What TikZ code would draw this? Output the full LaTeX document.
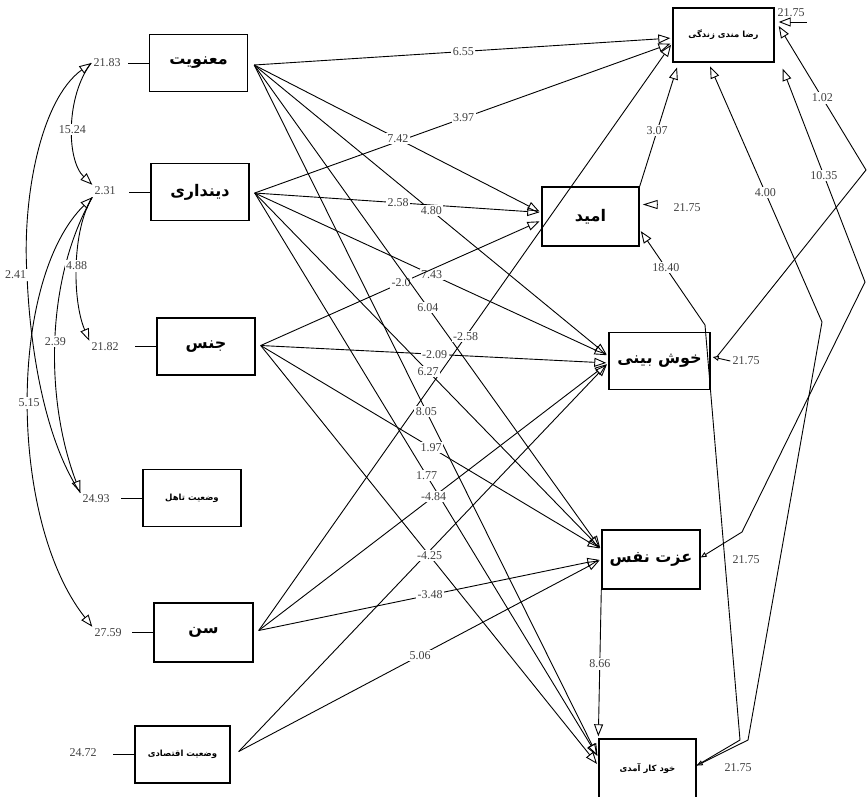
\documentclass[tikz,border=0pt]{standalone}
\usepackage{fontspec}
\setmainfont{Liberation Serif}
\newfontfamily\fa[Script=Arabic]{DejaVu Sans}
\TeXXeTstate=1
\usetikzlibrary{arrows.meta,positioning}

\newcommand{\fan}[1]{{\fa\bfseries\beginR #1\endR}}

\begin{document}
\begin{tikzpicture}[x=1pt,y=-1pt,
    >={Triangle[open,length=12pt,width=9pt]},
    var/.style={draw, line width=1.4pt, minimum width=98pt, minimum height=57pt, inner sep=2pt, font=\fontsize{16}{19}\selectfont},
    svar/.style={var, font=\fontsize{8.5}{10}\selectfont},
    eff/.style={->, line width=0.9pt, shorten >=2pt},
    cov/.style={line width=0.9pt},
    lbl/.style={fill=white, inner sep=1.5pt, font=\fontsize{12}{14}\selectfont, text=black!75},
    varlbl/.style={inner sep=2pt, font=\fontsize{12}{14}\selectfont, text=black!75}]
    \useasboundingbox (0,0) rectangle (867,796);

    % Exogenous variables
    \node[var] (M) at (198.5,63) {\fan{معنویت}};
    \node[var] (D) at (200,192) {\fan{دینداری}};
    \node[var] (J) at (206,346.5) {\fan{جنس}};
    \node[svar] (T) at (192,498) {\fan{وضعیت تاهل}};
    \node[var, minimum width=99pt, minimum height=59pt] (S) at (203.5,632.5) {\fan{سن}};
    \node[svar, minimum width=95pt] (E) at (182.5,754.5) {\fan{وضعیت اقتصادی}};

    % Endogenous variables
    \node[svar, minimum width=101pt, minimum height=54pt] (R) at (723.5,35) {\fan{رضا مندی زندگی}};
    \node[var, minimum width=97pt, minimum height=59pt] (A) at (590.5,216.5) {\fan{امید}};
    \node[var, minimum width=101pt] (K) at (659.5,361) {\fan{خوش بینی}};
    \node[var, minimum height=59pt] (Z) at (651,559.5) {\fan{عزت نفس}};
    \node[svar, minimum width=97pt, minimum height=59pt] (X) at (647.5,768.5) {\fan{خود کار آمدی}};

    % Variances
    \node[varlbl] (vM) at (107,63) {21.83};
    \node[varlbl] (vD) at (105,191) {2.31};
    \node[varlbl] (vJ) at (105,347) {21.82};
    \node[varlbl] (vT) at (96,499) {24.93};
    \node[varlbl] (vS) at (108,633) {27.59};
    \node[varlbl] (vE) at (83,753) {24.72};
    \foreach \v in {M,D,J,T,S,E}
        \draw[line width=0.9pt] (\v.west) -- ++(-21,0);

    % Covariances
    \draw[cov,<-] (vM.west) .. controls (40,100) and (22,200) .. (27,275) node[lbl, anchor=east, xshift=1pt] (c1) {2.41}
        .. controls (30,350) and (45,440) .. (vT.north west);
    \draw[cov,->] (vM.west) .. controls (66,95) and (66,160) .. node[lbl,pos=0.52] (c2) {15.24} (vD.north west);
    \draw[cov,->] (vD.south west) .. controls (45,280) and (45,400) .. node[lbl,pos=0.5] (c3) {2.39} (vT.north west);
    \draw[cov,<->] (vD.south west) .. controls (8,280) and (8,520) .. node[lbl,pos=0.5] (c4) {5.15} (vS.north west);
    \draw[cov,->] (vD.south west) .. controls (72,230) and (72,300) .. node[lbl,pos=0.5] (c5) {4.88} (vJ.north west);

    % Start points of the paths
    \coordinate (m0) at ([xshift=6pt,yshift=-2pt]M.east);
    \coordinate (d0) at ([xshift=5pt,yshift=-1pt]D.east);
    \coordinate (j0) at ([xshift=5pt,yshift=1pt]J.east);
    \coordinate (s0) at ([xshift=5pt,yshift=2pt]S.east);
    \coordinate (e0) at ([xshift=8pt,yshift=3pt]E.east);

    % Paths from the exogenous variables
    \draw[eff] (m0) -- node[lbl] {6.55} ([yshift=-3pt]R.west);
    \draw[eff] (d0) -- node[lbl] {3.97} ([yshift=-8pt]R.west);
    \draw[eff] (m0) -- node[lbl] {7.42} ([yshift=4pt]A.west);
    \draw[eff] (d0) -- node[lbl] {2.58} ([yshift=4pt]A.west);
    \draw[eff] (m0) -- node[lbl] {4.80} ([yshift=5pt]K.west);
    \draw[eff] (d0) -- node[lbl] {7.43} ([yshift=5pt]K.west);
    \draw[eff] (j0) -- node[lbl] {-2.0} ([yshift=-4pt]A.west);
    \draw[eff] (m0) -- node[lbl] {6.04} ([yshift=10pt]Z.west);
    \draw[eff] (s0) -- node[lbl] {-2.58} ([yshift=-8pt]R.west);
    \draw[eff] (j0) -- node[lbl] {-2.09} ([yshift=-2pt]K.west);
    \draw[eff] (d0) -- node[lbl] {6.27} ([yshift=10pt]Z.west);
    \draw[eff] (m0) -- node[lbl] {8.05} ([yshift=11pt]X.west);
    \draw[eff] (j0) -- node[lbl] {1.97} ([yshift=10pt]Z.west);
    \draw[eff] (d0) -- node[lbl] {1.77} ([yshift=11pt]X.west);
    \draw[eff] (s0) -- node[lbl] {-4.84} ([yshift=-2pt]K.west);
    \draw[eff] (e0) -- ([yshift=-2pt]K.west);
    \draw[eff] (j0) -- node[lbl] {-4.25} ([yshift=3pt]X.west);
    \draw[eff] (s0) -- node[lbl] {-3.48} (Z.west);
    \draw[eff] (e0) -- node[lbl] {5.06} (Z.west);

    % Paths between the endogenous variables
    \coordinate (b1) at (740,740);
    \coordinate (b2) at (705,325);
    \coordinate (b3) at (748,740);
    \coordinate (b4) at (822,322);
    \coordinate (b5) at (742,532);
    \coordinate (b6) at (865,282);
    \coordinate (b7) at (866,170);
    \draw[eff, shorten >=5pt] (A.north east) -- node[lbl,pos=0.45] {3.07} ([xshift=-45pt]R.south);
    \draw[eff] ([yshift=3pt]X.east) -- (b1) -- (b2) -- node[lbl,pos=0.6] {18.40} ([yshift=-13pt]A.east);
    \draw[eff, {Triangle[open,length=6pt,width=5pt]}->, shorten >=4pt] ([yshift=3pt]X.east) -- (b3) -- (b4) -- node[lbl] {4.00} ([xshift=-15pt]R.south);
    \draw[eff, {Triangle[open,length=6pt,width=5pt]}->, shorten >=0pt] ([yshift=2pt]Z.east) -- (b5) -- (b6) -- node[lbl] {10.35} ([xshift=8pt,yshift=-6pt]R.south east);
    \draw[eff, shorten >=0pt] ([xshift=6pt,yshift=4pt]K.east) -- (b7) -- node[lbl] {1.02} ([xshift=4pt,yshift=9pt]R.east);
    \draw[eff] (Z.south west) -- node[lbl] {8.66} (X.north west);

    % Residuals
    \node[varlbl] (eR) at (791,13) {21.75};
    \node[varlbl] (eA) at (687,208) {21.75};
    \node[varlbl] (eK) at (746,361) {21.75};
    \node[varlbl] (eZ) at (746,560) {21.75};
    \node[varlbl] (eX) at (738,768) {21.75};
    \draw[eff, shorten >=0pt] ([yshift=-9pt]eR.east) -- ([xshift=4pt,yshift=13pt]R.east);
    \draw[-{Triangle[open,length=15pt,width=9pt]}, line width=0.9pt] ([xshift=18pt,yshift=12pt]A.east) -- ([xshift=3pt,yshift=12pt]A.east);
    \draw[-{Triangle[open,length=6pt,width=5pt]}, line width=0.9pt] (eK.west) -- ([xshift=2pt,yshift=4pt]K.east);
\end{tikzpicture}
\end{document}
